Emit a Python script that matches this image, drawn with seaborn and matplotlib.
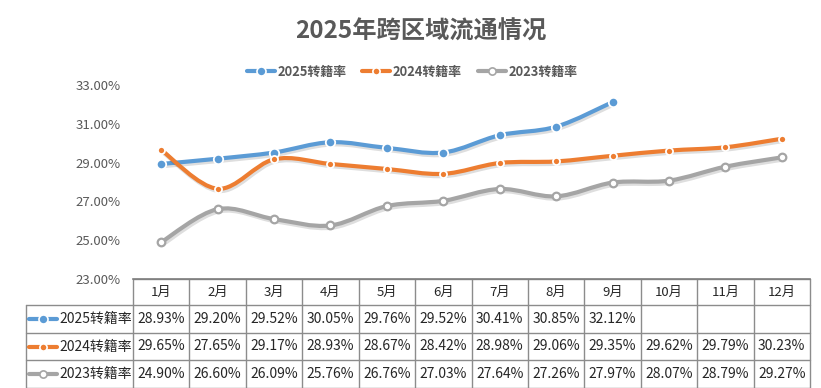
import numpy as np
import pandas as pd
import matplotlib
matplotlib.use("Agg")
import matplotlib.pyplot as plt
import seaborn as sns
from matplotlib.path import Path
from matplotlib.patches import PathPatch
from matplotlib.lines import Line2D
import matplotlib.patheffects as pe

# ---------------- data ----------------
months = ["1月", "2月", "3月", "4月", "5月", "6月", "7月", "8月", "9月", "10月", "11月", "12月"]
series_names = ["2025转籍率", "2024转籍率", "2023转籍率"]
rate_2025 = [28.93, 29.20, 29.52, 30.05, 29.76, 29.52, 30.41, 30.85, 32.12]
rate_2024 = [29.65, 27.65, 29.17, 28.93, 28.67, 28.42, 28.98, 29.06, 29.35, 29.62, 29.79, 30.23]
rate_2023 = [24.90, 26.60, 26.09, 25.76, 26.76, 27.03, 27.64, 27.26, 27.97, 28.07, 28.79, 29.27]
y_ticks = [23, 25, 27, 29, 31, 33]
title = "2025年跨区域流通情况"

# ---------------- style ----------------
sns.set_theme(style="white")
plt.rcParams["font.family"] = ["Noto Sans CJK SC", "DejaVu Sans"]

colors = ["#5B9BD5", "#ED7D31", "#A5A5A5"]
marker_face = ["#5B9BD5", "#ED7D31", "#FFFFFF"]
marker_edge = ["#FFFFFF", "#FFFFFF", "#A5A5A5"]
marker_size = [46, 26, 30]
all_series = [rate_2025, rate_2024, rate_2023]

frames = []
for name, vals in zip(series_names, all_series):
    frames.append(pd.DataFrame({"series": name, "idx": np.arange(len(vals)),
                                "month": months[:len(vals)], "value": vals}))
df = pd.concat(frames, ignore_index=True)

W, H = 821, 388
fig = plt.figure(figsize=(W / 100, H / 100), dpi=100)
fig.patch.set_facecolor("white")

# main plot area in pixel geometry
left_px, right_px, top_px, bot_px = 133, 810, 85, 279
ax = fig.add_axes([left_px / W, (H - bot_px) / H, (right_px - left_px) / W, (bot_px - top_px) / H])
ax.set_facecolor("none")
ax.set_xlim(-0.5, len(months) - 0.5)
ax.set_ylim(min(y_ticks), max(y_ticks))
ax.set_yticks(y_ticks)
ax.set_yticklabels([f"{v:.2f}%" for v in y_ticks], color="#595959", fontsize=9.5)
ax.set_xticks([])
ax.tick_params(axis="y", length=0, pad=9)
for s in ["left", "right", "top"]:
    ax.spines[s].set_visible(False)
ax.spines["bottom"].set_color("#7F7F7F")
ax.spines["bottom"].set_linewidth(1.2)


def smooth_path(xs, ys):
    pts = np.column_stack([xs, ys]).astype(float)
    n = len(pts)
    verts = [pts[0]]
    codes = [Path.MOVETO]
    for i in range(n - 1):
        p0 = pts[max(i - 1, 0)]
        p1 = pts[i]
        p2 = pts[i + 1]
        p3 = pts[min(i + 2, n - 1)]
        c1 = p1 + (p2 - p0) / 6.0
        c2 = p2 - (p3 - p1) / 6.0
        verts += [c1, c2, p2]
        codes += [Path.CURVE4] * 3
    return Path(np.array(verts), codes)


shadow = [pe.SimpleLineShadow(offset=(1.0, -1.4), shadow_color="#000000", alpha=0.13, linewidth=3.4),
          pe.Normal()]

for k, name in enumerate(series_names):
    sub = df[df["series"] == name]
    patch = PathPatch(smooth_path(sub["idx"].values, sub["value"].values), fill=False,
                      edgecolor=colors[k], lw=3.0, capstyle="round", joinstyle="round",
                      zorder=2 + k, path_effects=shadow)
    ax.add_patch(patch)

for k, name in enumerate(series_names):
    sub = df[df["series"] == name]
    sns.scatterplot(data=sub, x="idx", y="value", ax=ax, s=marker_size[k],
                    color=marker_face[k], edgecolor=marker_edge[k],
                    linewidth=1.3 if k < 2 else 1.6, zorder=6 + k, legend=False)
ax.set_xlabel("")
ax.set_ylabel("")

# ---------------- overlay for title, legend and data table ----------------
ov = fig.add_axes([0, 0, 1, 1], zorder=-1)
ov.set_xlim(0, W)
ov.set_ylim(H, 0)
ov.axis("off")

fig.text(421 / W, (H - 32) / H, title, ha="center", va="center", fontsize=17.5,
         fontweight="bold", color="#595959")

handles = []
for k in range(3):
    handles.append(Line2D([0], [0], color=colors[k], lw=3, marker="o",
                          markersize=6.5 if k == 0 else 5.2, markerfacecolor=marker_face[k],
                          markeredgecolor=marker_edge[k], markeredgewidth=1.2))
leg = fig.legend(handles, series_names, loc="center", bbox_to_anchor=(412 / W, (H - 72) / H),
                 ncol=3, frameon=False, fontsize=9.3, handlelength=2.2, columnspacing=1.2,
                 handletextpad=0.2)
for t in leg.get_texts():
    t.set_color("#595959")
    t.set_fontweight("bold")

# table geometry
col_w = (right_px - left_px) / len(months)
row_edges = [279, 305, 333, 360, 388]
line_col = "#8C8C8C"
tbl_left = 26
ov.plot([left_px, right_px], [row_edges[0], row_edges[0]], color=line_col, lw=1)
for y in row_edges[1:]:
    ov.plot([tbl_left, right_px], [y - 0.5 if y == H else y] * 2, color=line_col, lw=1)
for j in range(len(months) + 1):
    x = left_px + j * col_w
    ov.plot([x, x], [row_edges[0], H], color=line_col, lw=1)
ov.plot([tbl_left, tbl_left], [row_edges[1], H], color=line_col, lw=1)

for j, m in enumerate(months):
    cx = left_px + (j + 0.5) * col_w
    ov.text(cx, (row_edges[0] + row_edges[1]) / 2, m, ha="center", va="center",
            fontsize=9.5, color="#262626")

for k, (name, vals) in enumerate(zip(series_names, all_series)):
    cy = (row_edges[k + 1] + row_edges[k + 2]) / 2
    ov.add_line(Line2D([29, 57], [cy, cy], color=colors[k], lw=3))
    ov.add_line(Line2D([43], [cy], color=colors[k], lw=0, marker="o",
                       markersize=6.5 if k == 0 else 5.2, markerfacecolor=marker_face[k],
                       markeredgecolor=marker_edge[k], markeredgewidth=1.2))
    ov.text(59, cy, name, ha="left", va="center", fontsize=10, color="#262626")
    for j, v in enumerate(vals):
        cx = left_px + (j + 0.5) * col_w
        ov.text(cx, cy, f"{v:.2f}%", ha="center", va="center", fontsize=10, color="#262626")

fig.savefig("out.png", dpi=100, facecolor="white")
